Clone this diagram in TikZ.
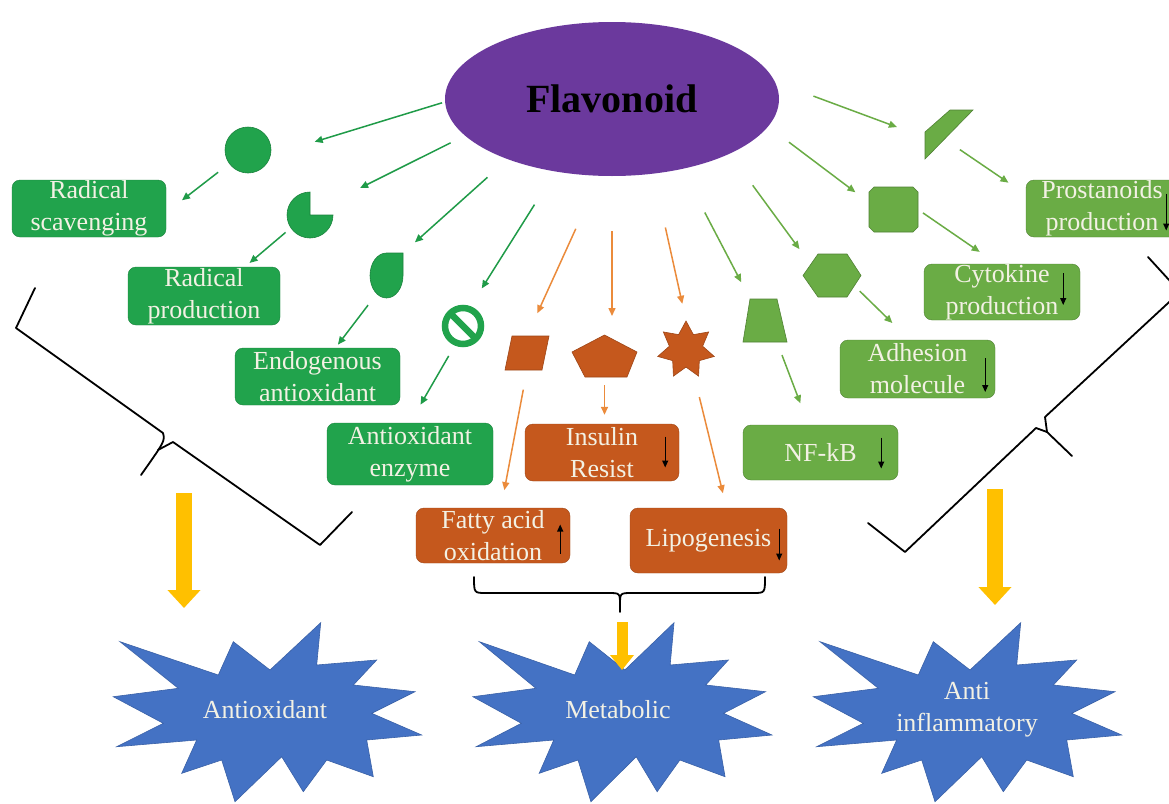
\documentclass[tikz,border=0pt]{standalone}
\usepackage{fontspec}
\setmainfont{Liberation Serif}
\usetikzlibrary{shapes.geometric,shapes.misc,arrows.meta}

\definecolor{dkgreen}{HTML}{21A34C}
\definecolor{ltgreen}{HTML}{6AAC45}
\definecolor{rust}{HTML}{C5581D}
\definecolor{grape}{HTML}{6B399D}
\definecolor{burstblue}{HTML}{4472C4}
\definecolor{gold}{HTML}{FFC000}
\definecolor{tanline}{HTML}{EB8B3B}
\definecolor{cream}{HTML}{F3F1E4}

\begin{document}
\begin{tikzpicture}
[
  x=1pt, y=-1pt,
  dkbox/.style={rounded corners=8pt,draw=dkgreen!80!black,fill=dkgreen,text=cream,align=center,inner sep=0pt},
  orbox/.style={rounded corners=8pt,draw=rust!80!black,fill=rust,text=cream,align=center,inner sep=0pt},
  ltbox/.style={rounded corners=8pt,draw=ltgreen!75!black,fill=ltgreen,text=cream,align=center,inner sep=0pt},
  dkshape/.style={draw=dkgreen!80!black,fill=dkgreen,line width=0.6pt},
  orshape/.style={draw=rust!80!black,fill=rust,line width=0.6pt},
  ltshape/.style={draw=ltgreen!75!black,fill=ltgreen,line width=0.6pt},
  holder/.style={inner sep=0pt,outer sep=0pt},
  dkarr/.style={dkgreen!95!black,line width=1.5pt,-{Triangle[length=8pt,width=7pt]}},
  orarr/.style={tanline,line width=1.5pt,-{Triangle[length=8pt,width=7pt]}},
  ltarr/.style={ltgreen,line width=1.5pt,-{Triangle[length=8pt,width=7pt]}},
  blkarr/.style={black,line width=1.2pt,-{Triangle[length=7pt,width=6pt]}},
  goldarr/.style={gold,line width=16pt,-{Triangle[length=18pt,width=32pt]}},
  brace/.style={black,line width=1.8pt,line join=round,line cap=round},
  burst/.style={fill=burstblue,draw=burstblue!85!black,line width=0.6pt}
]
\tikzstyle{every node}=[font=\fontsize{26}{32}\selectfont]

\fill[white] (0,0) rectangle (1169,803);
\useasboundingbox (0,0) rectangle (1169,803);

% source
\node[ellipse,fill=grape,minimum width=334pt,minimum height=154pt,font=\fontsize{40}{48}\selectfont\bfseries] (flav) at (612,99) {Flavonoid};

% antioxidant branch
\node[circle,minimum size=46pt,inner sep=0pt,dkshape] (circ) at (248,150) {};
\node[holder,circle,minimum size=46pt] (pac) at (310,215) {};
\filldraw[dkshape] (pac.center) -- ++(90:23pt) arc[start angle=90,end angle=360,radius=23pt] -- cycle;
\node[holder,minimum width=33pt,minimum height=45pt] (tear) at (386.5,275.5) {};
\filldraw[dkshape] (tear.north east) -- (tear.east) arc[start angle=0,end angle=-270,x radius=16.5pt,y radius=22.5pt] -- cycle;
\node[circle,draw=dkgreen,line width=6.5pt,minimum size=36pt,inner sep=0pt] (noentry) at (463,326) {};
\draw[dkgreen,line width=6.5pt] ([shift={(135:17pt)}]noentry.center) -- ([shift={(-45:17pt)}]noentry.center);

\node[dkbox,minimum width=154pt,minimum height=57pt] (scav) at (89,208.5) {Radical\\scavenging};
\node[dkbox,minimum width=152pt,minimum height=58pt] (rprod) at (204,296) {Radical\\production};
\node[dkbox,minimum width=165pt,minimum height=57pt] (endo) at (317.5,376.5) {Endogenous\\antioxidant};
\node[dkbox,minimum width=166pt,minimum height=62pt] (enz) at (410,454) {Antioxidant\\enzyme};

\draw[dkarr,shorten <=3pt,shorten >=46pt] (flav.181) -- (circ.-13);
\draw[dkarr,shorten <=14pt,shorten >=20pt] (circ.216) -- ([yshift=-4pt]scav.east);
\draw[dkarr,shorten <=16pt,shorten >=34pt] (flav.194) -- (pac.31);
\draw[dkarr,shorten <=7pt,shorten >=6pt] (pac.214) -- ([xshift=41pt]rprod.north);
\draw[dkarr,shorten <=27pt,shorten >=16pt] (flav.210) -- (tear.north east);
\draw[dkarr,shorten <=9pt,shorten >=4pt] ([xshift=-13pt]tear.south) -- ([xshift=18pt]endo.north);
\draw[dkarr,shorten <=39pt,shorten >=21pt] (flav.232) -- (noentry.69);
\draw[dkarr,shorten <=12pt,shorten >=21pt] (noentry.247) -- (enz.north);

% metabolic branch
\node[holder,minimum width=44pt,minimum height=34pt] (para) at (527,353) {};
\filldraw[orshape] ([xshift=7pt]para.north west) -- (para.north east) -- ([xshift=-7pt]para.south east) -- (para.south west) -- cycle;
\node[holder,minimum width=65pt,minimum height=42pt] (pent) at (604.5,356) {};
\filldraw[orshape] (pent.north) -- ([yshift=4pt]pent.east) -- ([xshift=-10pt]pent.south east) -- ([xshift=13pt]pent.south west) -- ([yshift=4pt]pent.west) -- cycle;
\node[star,star points=7,star point ratio=1.7,minimum size=58pt,inner sep=1pt,orshape] (star7) at (686,350) {};

\node[orbox,minimum width=154pt,minimum height=57pt] (ins) at (602,452.5) {Insulin\\Resist};
\node[orbox,minimum width=154pt,minimum height=55pt] (fatty) at (493,535.5) {Fatty acid\\oxidation};
\node[orbox,minimum width=157pt,minimum height=65pt] (lipo) at (708.5,540.5) {Lipogenesis};

\draw[orarr,shorten <=58pt,shorten >=25pt] (flav.261) -- (para.north);
\draw[orarr,shorten <=55pt,shorten >=19pt] (flav.south) -- (flav.south |- pent.north);
\draw[orarr,shorten <=55pt,shorten >=17pt] (flav.299) -- (star7.north);
\draw[orarr,shorten <=20pt,shorten >=18pt] (para.south) -- ([xshift=8pt]fatty.north);
\draw[orarr,shorten <=8pt,shorten >=9pt] (pent.south) -- (pent.south |- ins.north);
\draw[orarr,shorten <=25pt,shorten >=15pt] (star7.-72) -- ([xshift=18pt]lipo.north);

% anti-inflammatory branch
\node[holder,minimum width=44pt,minimum height=43pt] (trap) at (765,320.5) {};
\filldraw[ltshape] ([xshift=7pt]trap.north west) -- ([xshift=-10pt]trap.north east) -- (trap.south east) -- (trap.south west) -- cycle;
\node[holder,minimum width=58pt,minimum height=43pt] (hexa) at (832,275.5) {};
\filldraw[ltshape] (hexa.west) -- ([xshift=15pt]hexa.north west) -- ([xshift=-14pt]hexa.north east) -- (hexa.east) -- ([xshift=-14pt]hexa.south east) -- ([xshift=15pt]hexa.south west) -- cycle;
\node[holder,minimum width=49pt,minimum height=45pt] (octa) at (893.5,209.5) {};
\filldraw[ltshape] ([xshift=5pt]octa.north west) -- ([xshift=-5pt]octa.north east) -- ([yshift=-5pt]octa.north east) -- ([yshift=5pt]octa.south east) -- ([xshift=-5pt]octa.south east) -- ([xshift=5pt]octa.south west) -- ([yshift=5pt]octa.south west) -- ([yshift=-5pt]octa.north west) -- cycle;
\node[holder,minimum width=48pt,minimum height=49pt] (gpara) at (949,134.5) {};
\filldraw[ltshape] ([xshift=25pt]gpara.north west) -- (gpara.north east) -- (gpara.south west) -- ([yshift=-22pt]gpara.north west) -- cycle;

\node[ltbox,minimum width=155pt,minimum height=55pt] (nfkb) at (820.5,452.5) {NF-kB};
\node[ltbox,minimum width=155pt,minimum height=58pt] (adh) at (917.5,369) {Adhesion\\molecule};
\node[ltbox,minimum width=156pt,minimum height=56pt] (cyto) at (1002,292) {Cytokine\\production};
\node[ltbox,minimum width=152pt,minimum height=57pt] (prost) at (1102,208.5) {Prostanoids\\production};

\draw[ltarr,shorten <=49pt,shorten >=19pt] (flav.-45) -- ([xshift=7pt]trap.north west);
\draw[ltarr,shorten <=14pt,shorten >=23pt] ([xshift=12pt]trap.south) -- ([xshift=-12pt]nfkb.north);
\draw[ltarr,shorten <=39pt,shorten >=6pt] (flav.-25) -- (hexa.north west);
\draw[ltarr,shorten <=8pt,shorten >=24pt] ([shift={(22,10)}]hexa.center) -- ([xshift=-8pt]adh.north);
\draw[ltarr,shorten <=26pt,shorten >=17pt] (flav.-10) -- ([yshift=7pt]octa.west);
\draw[ltarr,shorten <=6pt,shorten >=21pt] (octa.east) -- ([xshift=-5pt]cyto.north);
\draw[ltarr,shorten <=41pt,shorten >=30pt] (flav.6.5) -- ([yshift=-3pt]gpara.west);
\draw[ltarr,shorten <=18pt,shorten >=21pt] ([shift={(-4,5)}]gpara.center) -- ([yshift=14pt]prost.west);

% up/down marks
\draw[blkarr] ([shift={(-14,-16)}]ins.east) -- ([shift={(-14,15)}]ins.east);
\draw[blkarr] ([shift={(-10,18)}]fatty.east) -- ([shift={(-10,-11)}]fatty.east);
\draw[blkarr] ([shift={(-8,-12)}]lipo.east) -- ([shift={(-8,20)}]lipo.east);
\draw[blkarr] ([shift={(-17,-15)}]nfkb.east) -- ([shift={(-17,16)}]nfkb.east);
\draw[blkarr] ([shift={(-10,-11)}]adh.east) -- ([shift={(-10,23)}]adh.east);
\draw[blkarr] ([shift={(-17,-19)}]cyto.east) -- ([shift={(-17,13)}]cyto.east);
\draw[blkarr] ([shift={(-12,-15)}]prost.east) -- ([shift={(-12,22)}]prost.east);

% braces
\draw[brace] (35,288) -- (16,328) -- (163,433) .. controls (165,441) .. (141,475);
\draw[brace] (158,450) -- (173,442) -- (320,545) -- (352,512);
\draw[brace] (1148,257) -- (1180,292) -- (1045,417) -- (1047,432) -- (1072,456);
\draw[brace] (1047,432) -- (1036,428) -- (905,552) -- (868,523);
\draw[brace] (474,577) .. controls (474,593) .. (486,593) -- (608,593) .. controls (620,593) .. (620,605) -- (620,612);
\draw[brace] (765,577) .. controls (765,593) .. (753,593) -- (632,593) .. controls (620,593) .. (620,605);

% effects
\foreach \cx/\sx in {265/1,620/0.97,965/1}
  \filldraw[burst,shift={(\cx,712)},xscale=\sx] (55.7,-89.3) -- (51.7,-47) -- (111.7,-52) -- (88.3,-27)
    -- (150,-20.3) -- (106.7,1.3) -- (156.7,23) -- (101.7,28) -- (108.3,64.7) -- (61.7,48)
    -- (38.3,79.7) -- (16.7,44.7) -- (-30,89.7) -- (-43.3,48) -- (-83.3,61.3) -- (-68.3,28)
    -- (-148.3,34.7) -- (-101.7,11.3) -- (-151.7,-15.3) -- (-86.7,-23.7) -- (-145,-70.3)
    -- (-46.7,-37) -- (-31.7,-70.3) -- (5,-42) -- cycle;

\node[text=cream] (stA) at (265,710) {Antioxidant};
\node[text=cream] (stM) at (618,710) {Metabolic};
\node[text=cream,align=center] (stI) at (967,710) {Anti\\inflammatory};

\coordinate (yA0) at (184,493);
\coordinate (yA1) at (184,608);
\coordinate (yM0) at (622,622);
\coordinate (yM1) at (622,670);
\coordinate (yI0) at (995,489);
\coordinate (yI1) at (995,605);
\draw[goldarr] (yA0) -- (yA1);
\draw[goldarr,line width=11pt,-{Triangle[length=15pt,width=23pt]}] (yM0) -- (yM1);
\draw[goldarr] (yI0) -- (yI1);

\end{tikzpicture}
\end{document}
